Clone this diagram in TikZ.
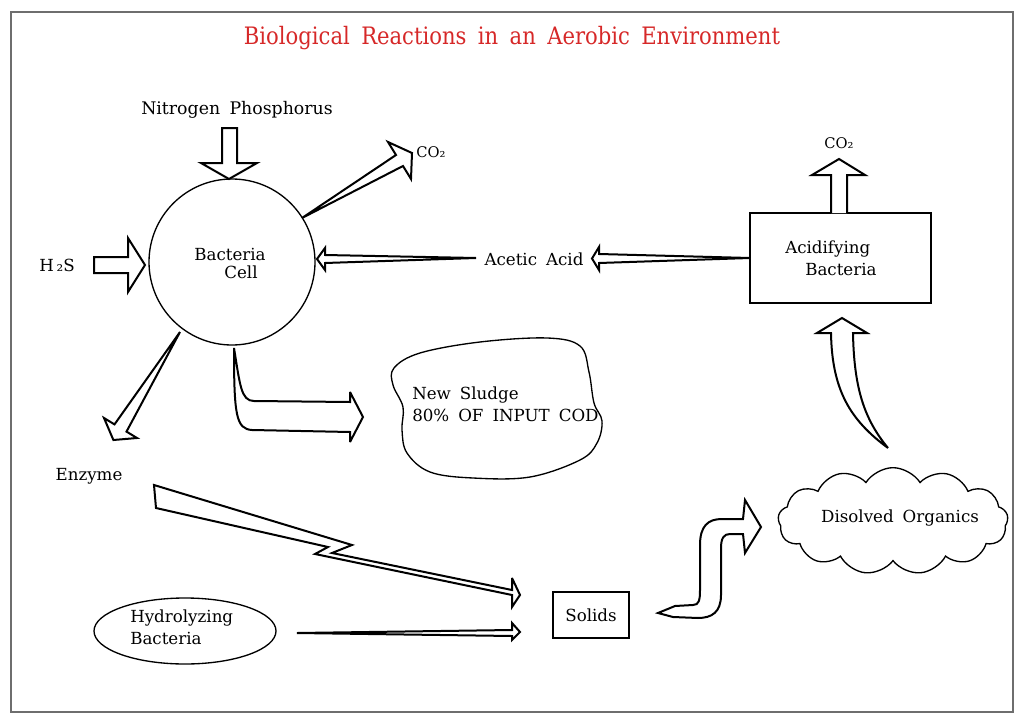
\documentclass[tikz,border=0pt]{standalone}
\usepackage{fontspec}
\setmainfont{DejaVu Serif}[WordSpace=1.7]
\newfontfamily\titlefont{DejaVu Serif}[FakeStretch=0.88,WordSpace=1.7]
\usetikzlibrary{shapes.geometric,shapes.symbols}
\definecolor{titlered}{RGB}{214,40,40}
\definecolor{framegray}{RGB}{110,110,110}
\begin{document}
\begin{tikzpicture}[x=0.75pt,y=-0.75pt,
  blockarrow/.style={draw=black,line width=1.5pt,fill=white,line join=miter,miter limit=4},
  outline/.style={draw=black,line width=1pt},
  lbl/.style={font=\fontsize{12.5}{16.5}\selectfont,inner sep=0pt},
  small/.style={font=\fontsize{11}{13}\selectfont,inner sep=0pt}]
\useasboundingbox (0,0) rectangle (1024,724);
\draw[framegray,line width=1pt] (11,12) rectangle (1013,712);

% title
\node[inner sep=0pt,text=titlered,font=\titlefont\fontsize{18}{21}\selectfont] (title) at (512,38) {Biological Reactions in an Aerobic Environment};

% bacteria cell
\node[outline,circle,minimum size=124.5pt,inner sep=0pt] (cell) at (232,262) {};
\node[lbl] (cellA) at (230,254) {Bacteria};
\node[lbl] (cellB) at (241,272) {Cell};

% Nitrogen Phosphorus
\node[lbl,font=\fontsize{13}{16}\selectfont] (np) at (237,110) {Nitrogen Phosphorus};
\draw[blockarrow] (222,128) -- (237,128) -- (237,163) -- (257,163) -- (229,179) -- (201,163) -- (222,163) -- cycle;

% H2S
\node[lbl] (h2s) at (57,265) {H\,₂S};
\draw[blockarrow] (94,257) -- (128,257) -- (128,238) -- (145,265) -- (128,292) -- (128,273) -- (94,273) -- cycle;

% CO2 from cell
\node[small] (co2a) at (431,152) {CO₂};
\draw[blockarrow] (302,218) -- (396,155) -- (388,142) -- (412,153) -- (411,179) -- (403,166) -- cycle;

% Acidifying bacteria box
\node[outline,rectangle,minimum width=135.75pt,minimum height=67.5pt] (acid) at (840.5,258) {};
\node[lbl,anchor=west] (acidA) at (785,249) {Acidifying};
\node[lbl,anchor=west] (acidB) at (805,269) {Bacteria};

% CO2 from box
\node[small] (co2b) at (839,143) {CO₂};
\draw[blockarrow] (831,213) -- (831,175) -- (812,175) -- (839,159) -- (865,175) -- (847,175) -- (847,213);

% Acetic acid
\node[lbl] (acetic) at (534,259) {Acetic Acid};
\draw[blockarrow] (750,258) -- (599,254) -- (599,247) -- (592,258.5) -- (599,270) -- (599,263) -- cycle;
\draw[blockarrow] (476,258) -- (325,255) -- (325,248) -- (317,259) -- (325,270) -- (325,263) -- cycle;

% Enzyme arrow
\node[lbl] (enzyme) at (89,476) {Enzyme};
\draw[blockarrow] (180,332) -- (114.5,424.4) -- (104,418) -- (113.4,440) -- (137,438) -- (126.5,431.6) -- cycle;

% New sludge arrow
\draw[blockarrow] (234,348) .. controls (240,385) and (241,401) .. (254,401) -- (350,402) -- (350,392) -- (363,417) -- (350,442) -- (350,432) -- (252,430) .. controls (236,429) and (234,415) .. (234,348) -- cycle;

% New sludge blob
\draw[outline] plot[smooth cycle,tension=0.6] coordinates {(394,368) (420,353) (480,342) (547,338) (580,346) (589,372) (594,403) (602,421) (597,443) (580,460) (530,477) (473,478) (430,472) (407,453) (402,430) (403,407) (393,385)};
\node[lbl,anchor=west,align=left] (sludge) at (412,404) {New Sludge\\80\% OF INPUT COD};

% Lightning arrow
\draw[blockarrow] (154,485) -- (352,545) -- (332,553) -- (512,590) -- (512,578) -- (520,595) -- (512,607) -- (512,595) -- (315,554) -- (328,547) -- (156,508) -- cycle;

% Hydrolyzing bacteria
\node[outline,ellipse,minimum width=136.5pt,minimum height=49.5pt] (hyd) at (185,631) {};
\node[lbl,anchor=west,align=left] (hydT) at (130,627) {Hydrolyzing\\Bacteria};
\draw[blockarrow] (297,633) -- (512,630) -- (512,623) -- (520,632) -- (512,640) -- (512,636) -- cycle;

% Solids
\node[outline,rectangle,minimum width=57pt,minimum height=34.5pt,lbl] (solids) at (591,615) {Solids};

% S arrow
\draw[blockarrow] (658,613) -- (675,606) -- (693,605) .. controls (699,605) and (700,600) .. (700,590) -- (700,545) .. controls (700,526) and (708,519) .. (722,519) -- (743,519) -- (745,500) -- (761,527) -- (745,553) -- (743,534) -- (730,534) .. controls (724,534) and (721,538) .. (721,548) -- (721,595) .. controls (721,612) and (712,618) .. (698,618) -- (673,617) -- cycle;

% Disolved organics cloud
\node[outline,cloud,cloud puffs=13,cloud puff arc=115,aspect=2.15,minimum width=172.5pt,minimum height=80pt] (cloud) at (893,521) {};
\node[lbl] (cloudT) at (900,518) {Disolved Organics};

% curved arrow to box
\draw[blockarrow] (888,448) .. controls (850,420) and (832,390) .. (831,333) -- (817,333) -- (842,318) -- (867,333) -- (853,333) .. controls (854,390) and (865,420) .. (888,448) -- cycle;
\end{tikzpicture}
\end{document}
